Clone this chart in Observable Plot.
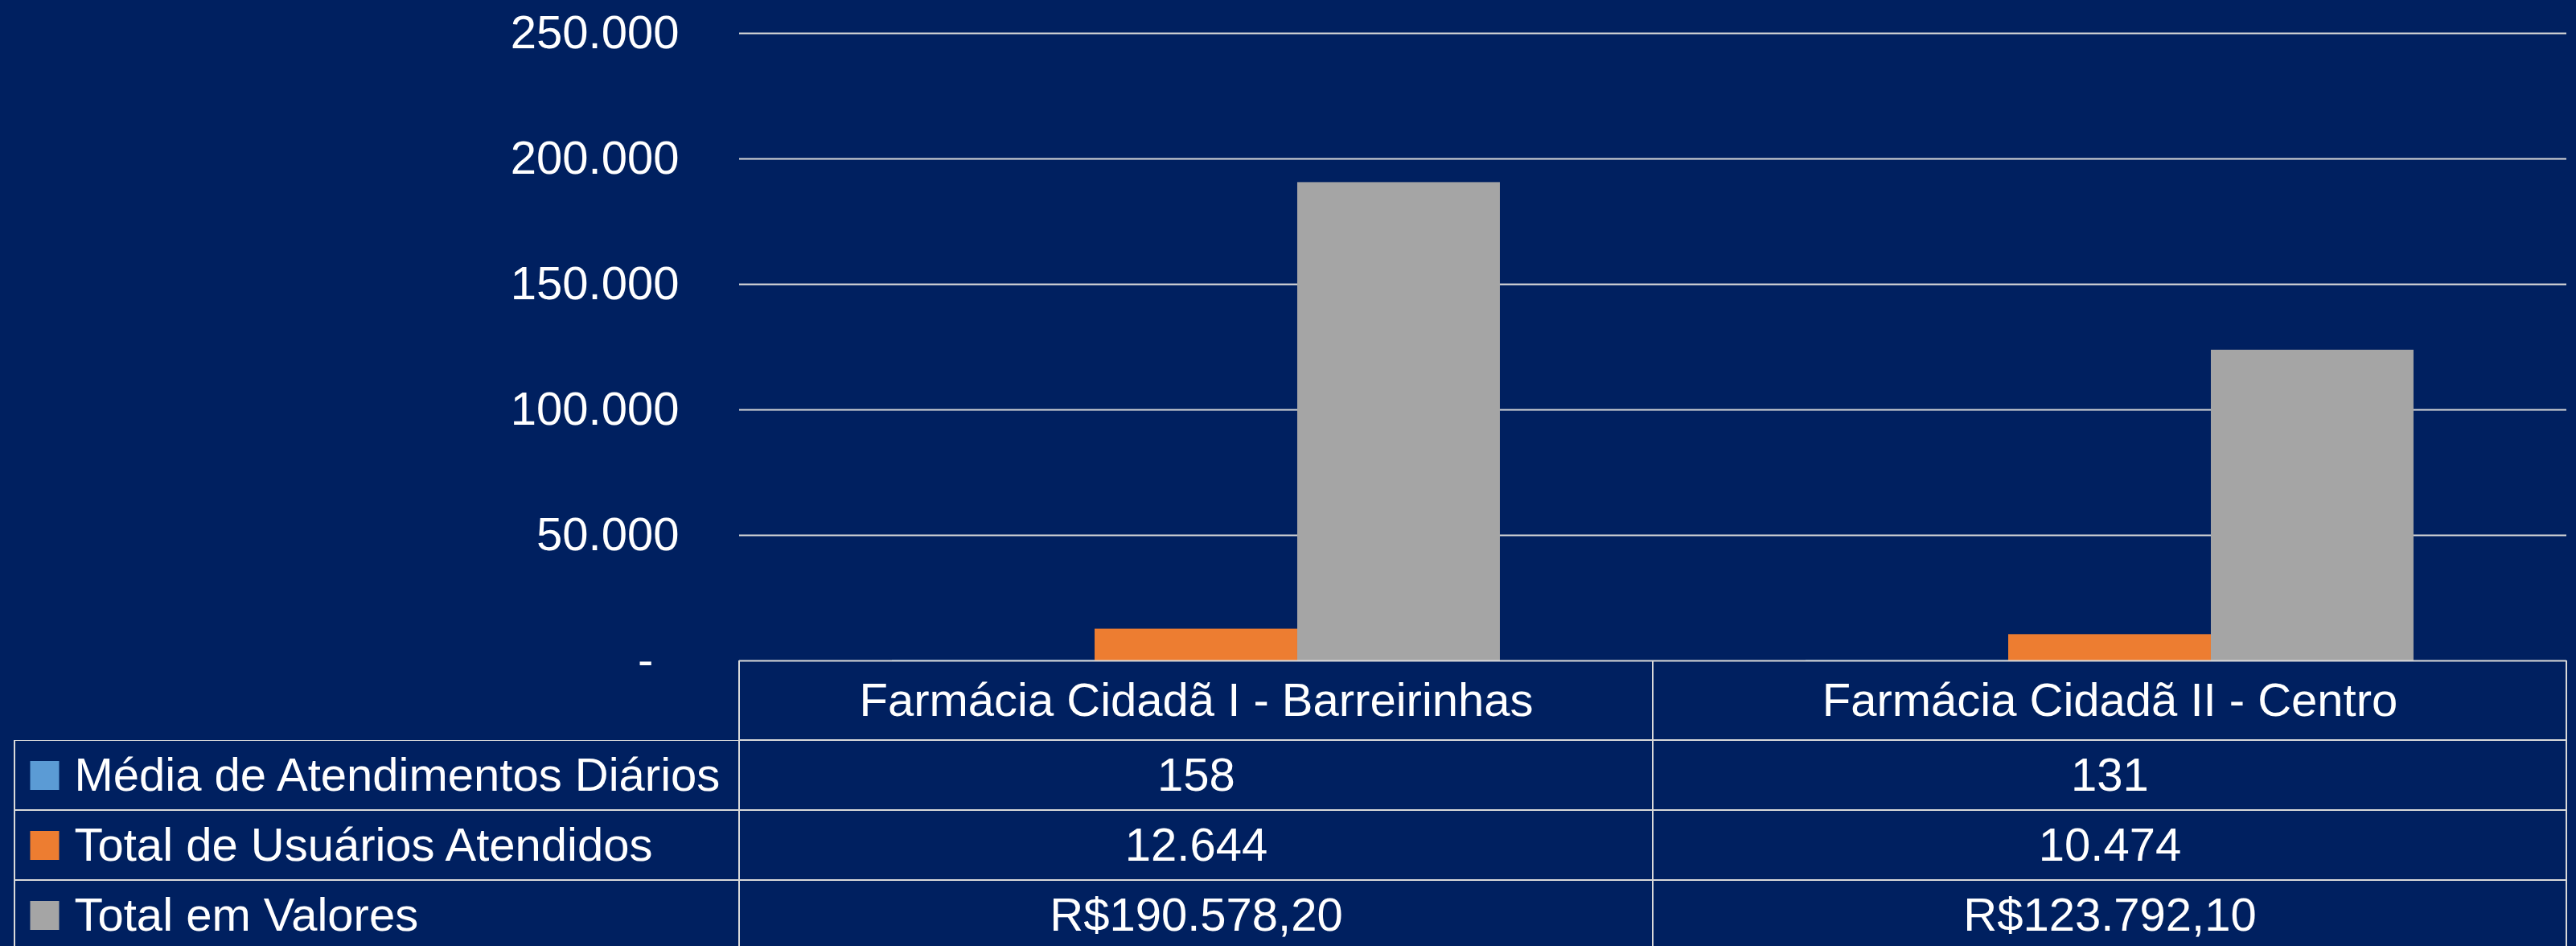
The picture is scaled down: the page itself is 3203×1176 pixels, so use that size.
<!DOCTYPE html>
<html><head><meta charset="utf-8">
<script src="https://cdn.jsdelivr.net/npm/d3@7"></script>
<script src="https://cdn.jsdelivr.net/npm/@observablehq/plot@0.6"></script>
<style>
html,body{margin:0;padding:0;background:#002060;overflow:hidden;}
#chart svg{display:block;}
</style></head><body><div id="chart"></div>
<script>
// ---- data ----
const categories = ["Farmácia Cidadã I - Barreirinhas", "Farmácia Cidadã II - Centro"];
const seriesNames = ["Média de Atendimentos Diários", "Total de Usuários Atendidos", "Total em Valores"];
const seriesColors = ["#5B9BD5", "#ED7D31", "#A5A5A5"];
const mediaDiaria = [158, 131];
const totalUsuarios = [12644, 10474];
const totalValores = [190578.20, 123792.10];
const yTicks = [0, 50000, 100000, 150000, 200000, 250000];

function fmtInt(v){ return Math.round(v).toString().replace(/\B(?=(\d{3})+(?!\d))/g, "."); }
function fmtBRL(v){ const [i, d] = v.toFixed(2).split("."); return "R$" + fmtInt(+i) + "," + d; }
const seriesValues = [mediaDiaria, totalUsuarios, totalValores];
const seriesFormat = [fmtInt, fmtInt, fmtBRL];

const rows = seriesNames.flatMap((s, si) => categories.map((c, ci) => ({
  series: s, si, category: c, value: seriesValues[si][ci], label: seriesFormat[si](seriesValues[si][ci])
})));

// ---- layout ----
const W = 3203, H = 1176;
const tableLeft = 18, plotLeft = 919, plotRight = 3191, labelRight = 844;
const topY = 41, baseY = 821, headerH = 99, rowH = 87;
const swatchX = 55, legendTextX = 92, swatchSide = 36;
const font = "'Liberation Sans', Arial, sans-serif";
const fs = 58;
const lineColor = "#D9D9D9";
const bg = "#002060";
const bw = (plotRight - plotLeft) / categories.length;
const barW = bw * 0.2218;
const groupPad = (bw - barW * seriesNames.length) / 2;

const xOpts = {type: "band", domain: categories, range: [plotLeft, plotRight], padding: 0, axis: null};
const common = {width: W, marginLeft: tableLeft, marginRight: W - plotRight};
const baseStyle = {color: "white", fontFamily: font, fontSize: fs + "px", display: "block"};

const chart = Plot.plot({
  ...common, height: baseY, marginTop: topY, marginBottom: 0,
  style: {...baseStyle, background: bg, overflow: "visible", position: "relative", zIndex: 2},
  x: xOpts,
  y: {domain: [0, 250000], axis: null},
  marks: [
    Plot.ruleY(yTicks.filter(d => d > 0), {y: d => d, stroke: lineColor, strokeWidth: 2, insetLeft: plotLeft - tableLeft}),
    ...seriesNames.map((s, si) => Plot.barY(rows.filter(d => d.si === si), {
      x: "category", y: "value", fill: seriesColors[si],
      insetLeft: groupPad + si * barW, insetRight: bw - groupPad - (si + 1) * barW
    })),
    Plot.ruleY([0], {y: d => d, stroke: lineColor, strokeWidth: 2, insetLeft: plotLeft - tableLeft}),
    Plot.text(yTicks, {y: d => d, text: d => d === 0 ? "-\u2007" : fmtInt(d), frameAnchor: "left",
      dx: labelRight - tableLeft, textAnchor: "end", fill: "white", fontSize: fs})
  ]
});

const header = Plot.plot({
  ...common, height: headerH, marginTop: 0, marginBottom: 0,
  style: {...baseStyle, background: "transparent", overflow: "hidden"},
  x: xOpts,
  marks: [
    Plot.cell(categories, {x: d => d, stroke: lineColor, strokeWidth: 2, fill: "none", inset: 0}),
    Plot.text(categories, {x: d => d, text: d => d, frameAnchor: "middle", fill: "white", fontSize: fs})
  ]
});

const table = Plot.plot({
  ...common, height: H - baseY - headerH, marginTop: 0, marginBottom: 0,
  style: {...baseStyle, background: "transparent", overflow: "hidden"},
  x: xOpts,
  y: {type: "band", domain: seriesNames, range: [0, rowH * seriesNames.length], padding: 0, axis: null},
  marks: [
    Plot.cell(seriesNames, {y: d => d, stroke: lineColor, strokeWidth: 2, fill: "none", inset: 0}),
    Plot.cell(rows, {x: "category", y: "series", stroke: lineColor, strokeWidth: 2, fill: "none", inset: 0}),
    Plot.text(rows, {x: "category", y: "series", text: "label", fill: "white", fontSize: fs}),
    ...seriesNames.map((s, si) => Plot.dot([s], {y: d => d, frameAnchor: "left", dx: swatchX - tableLeft,
      symbol: "square", r: swatchSide / Math.sqrt(Math.PI), fill: seriesColors[si], stroke: "none"})),
    Plot.text(seriesNames, {y: d => d, text: d => d, frameAnchor: "left", dx: legendTextX - tableLeft,
      textAnchor: "start", fill: "white", fontSize: fs})
  ]
});

const root = document.getElementById("chart");
root.append(chart, header, table);
</script></body></html>
